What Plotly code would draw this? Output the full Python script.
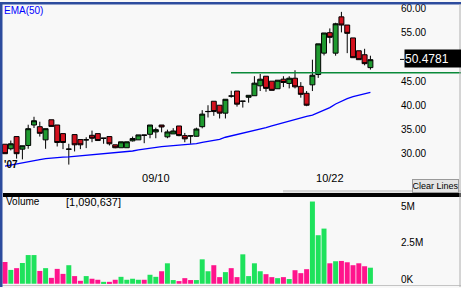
import pandas as pd
import plotly.graph_objects as go

# ---------------- data ----------------
dates = [d.strftime("%Y-%m-%d") for d in pd.bdate_range("2007-08-02", "2007-10-31")
         if d.strftime("%Y-%m-%d") != "2007-09-03"]

opens = [31.98, 31.04, 33.56, 30.96, 31.72, 35.95, 35.60, 32.88, 37.03, 35.95,
         34.17, 30.93, 33.97, 32.94, 32.86, 33.82, 34.17, 33.19, 33.56, 31.86,
         31.25, 31.25, 32.68, 32.88, 33.91, 34.03, 34.52, 35.95, 33.50, 34.11,
         35.75, 33.76, 33.72, 33.62, 35.60, 38.71, 40.86, 40.04, 38.40, 41.96,
         42.97, 40.84, 41.68, 42.00, 44.05, 46.03, 45.01, 43.44, 45.42, 44.54,
         45.62, 43.93, 42.50, 44.25, 46.38, 50.80, 55.03, 50.80, 58.30, 56.61,
         53.95, 51.29, 50.47, 47.81]
highs = [31.98, 32.74, 33.56, 31.66, 36.01, 37.65, 36.63, 35.19, 37.03, 35.95,
         34.17, 32.07, 33.97, 32.94, 33.42, 34.79, 34.17, 33.23, 33.56, 31.86,
         32.48, 32.48, 33.56, 33.91, 33.91, 35.95, 35.40, 35.95, 34.99, 35.30,
         35.75, 34.31, 33.72, 35.40, 39.02, 40.04, 40.86, 40.04, 41.27, 43.03,
         42.97, 40.88, 42.09, 46.03, 46.50, 46.03, 45.01, 45.21, 46.03, 46.03,
         47.26, 44.81, 42.97, 49.45, 52.72, 54.97, 55.91, 57.08, 59.33, 56.61,
         53.95, 51.29, 51.70, 50.27]
lows = [30.02, 30.70, 29.00, 28.85, 31.04, 35.34, 33.56, 31.04, 35.66, 31.51,
        30.96, 27.77, 30.49, 30.96, 31.17, 32.39, 32.74, 32.07, 31.72, 31.15,
        31.25, 31.25, 32.54, 32.88, 32.19, 33.21, 33.21, 34.44, 33.21, 34.11,
        33.62, 32.39, 32.07, 33.56, 35.26, 37.51, 37.85, 37.30, 37.30, 41.60,
        39.75, 39.55, 40.57, 42.00, 42.97, 42.82, 43.11, 43.44, 43.78, 43.52,
        43.52, 41.60, 39.84, 42.97, 45.69, 50.33, 52.84, 50.27, 55.09, 50.80,
        49.86, 49.45, 48.28, 47.40]
closes = [30.02, 32.07, 30.02, 31.66, 35.19, 36.83, 34.23, 35.19, 35.66, 32.33,
          32.33, 30.97, 31.86, 31.86, 32.90, 33.21, 32.74, 33.23, 32.07, 31.25,
          32.48, 32.48, 33.15, 33.91, 33.82, 35.95, 34.99, 35.54, 34.52, 34.72,
          33.76, 33.09, 33.68, 35.13, 38.20, 38.75, 38.73, 38.40, 41.27, 41.92,
          40.25, 40.88, 42.09, 44.60, 45.42, 43.52, 43.11, 45.21, 44.74, 45.62,
          43.84, 42.29, 40.04, 46.24, 52.72, 54.97, 54.07, 56.87, 56.61, 54.89,
          49.86, 49.45, 48.63, 49.45]
ema50 = [27.45, 27.70, 27.90, 28.10, 28.40, 28.55, 28.80, 29.00, 29.13, 29.20,
         29.30, 29.35, 29.45, 29.55, 29.67, 29.80, 29.95, 30.07, 30.15, 30.25,
         30.35, 30.45, 30.58, 30.80, 31.00, 31.15, 31.30, 31.47, 31.60, 31.70,
         31.78, 31.85, 31.92, 32.10, 32.35, 32.55, 32.70, 33.00, 33.42, 33.70,
         34.00, 34.25, 34.45, 34.75, 35.05, 35.40, 35.75, 36.10, 36.48, 36.85,
         37.20, 37.52, 37.75, 38.00, 38.50, 39.05, 39.55, 40.30, 40.90, 41.40,
         41.80, 42.05, 42.35, 42.70]
volumes = [1480000, 940000, 1060000, 1410000, 1950000, 1950000, 870000, 1060000, 400000, 1010000,
           670000, 1260000, 520000, 200000, 520000, 340000, 270000, 130000, 130000, 270000,
           470000, 270000, 340000, 270000, 270000, 610000, 470000, 850000, 1390000, 250000,
           180000, 380000, 250000, 250000, 1660000, 850000, 1260000, 450000, 790000, 1060000,
           450000, 2000000, 520000, 1390000, 850000, 650000, 450000, 380000, 450000, 320000,
           920000, 720000, 990000, 5590000, 3300000, 3750000, 1390000, 1530000, 1550000, 1460000,
           1260000, 1390000, 1190000, 1090637]

date_ticks = ["2007-09-10", "2007-10-22"]
date_labels = ["09/10", "10/22"]
price_ticks = [30, 35, 40, 45, 55, 60]
vol_ticks = [0, 2500000, 5000000]
vol_labels = ["0K", "2.5M", "5M"]
support_level = 46.73
last_price_text = "50.4781"
last_volume_text = "[1,090,637]"

# ---------------- styling ----------------
W, H = 461, 288
PW = 400  # plot width in px (right margin holds the labels)
BG = "#f8f8f8"
UP_FILL = "#1f9a30"
DN_FILL = "#d4111e"
VOL_UP = "#1ee25c"
VOL_DN = "#ff148c"
FONT = "Liberation Sans, Arial, sans-serif"


def px(xp):
    return xp / PW


def py(yp):
    return (H - yp) / H


vol_colors = [VOL_UP if c >= o else VOL_DN for o, c in zip(opens, closes)]

fig = go.Figure()
fig.add_trace(go.Candlestick(
    x=dates, open=opens, high=highs, low=lows, close=closes,
    xaxis="x", yaxis="y",
    increasing=dict(line=dict(color="black", width=1), fillcolor=UP_FILL),
    decreasing=dict(line=dict(color="black", width=1), fillcolor=DN_FILL),
    whiskerwidth=0, showlegend=False, hoverinfo="skip"))
fig.add_trace(go.Scatter(
    x=dates, y=ema50, mode="lines", xaxis="x", yaxis="y",
    line=dict(color="#0000ff", width=1.3), showlegend=False, hoverinfo="skip"))
fig.add_trace(go.Bar(
    x=dates, y=volumes, xaxis="x2", yaxis="y2",
    marker=dict(color=vol_colors, line=dict(width=0)),
    showlegend=False, hoverinfo="skip"))

xr = [-0.862, 68.10]
fig.update_layout(
    width=W, height=H,
    margin=dict(l=0, r=W - PW, t=0, b=0),
    paper_bgcolor=BG, plot_bgcolor=BG,
    font=dict(family=FONT, size=10, color="black"),
    boxgap=0.15, boxgroupgap=0, bargap=0.14,
    showlegend=False,
    xaxis=dict(type="category", range=xr, domain=[0, 1], anchor="y",
               rangeslider=dict(visible=False), showgrid=False, zeroline=False,
               showline=False, ticks="", tickvals=date_ticks, ticktext=date_labels,
               ticklabelposition="inside", ticklabelstandoff=6,
               tickfont=dict(size=11, color="black", family=FONT)),
    xaxis2=dict(type="category", range=xr, domain=[0, 1], anchor="y2", matches="x",
                showgrid=False, zeroline=False, showline=False, showticklabels=False,
                ticks=""),
    yaxis=dict(domain=[py(193), py(3)], range=[21.90, 60.757], side="right",
               showgrid=False, zeroline=False, showline=False, ticks="",
               tickvals=price_ticks, ticktext=[f"{v:.2f}" for v in price_ticks],
               tickfont=dict(size=10, color="black", family=FONT)),
    yaxis2=dict(domain=[py(285), py(197)], range=[-20000, 5902000], side="right",
                showgrid=False, zeroline=False, showline=False, ticks="",
                tickvals=vol_ticks, ticktext=vol_labels, ticklabelshift=-4,
                ticklabeloverflow="allow",
                tickfont=dict(size=10, color="black", family=FONT)),
)

shapes = [
    # support line
    dict(type="line", xref="paper", yref="y", x0=px(231), x1=px(461),
         y0=support_level, y1=support_level, line=dict(color="#0a8a3a", width=1.5)),
    # small price marker tick
    dict(type="line", xref="paper", yref="paper", x0=px(400), x1=px(404),
         y0=py(58), y1=py(58), line=dict(color="black", width=1)),
    # separator bar between panels
    dict(type="rect", xref="paper", yref="paper", x0=px(3), x1=px(461),
         y0=py(197), y1=py(193), fillcolor="black", line=dict(width=0), layer="above"),
    # scroll ruler
    dict(type="rect", xref="paper", yref="paper", x0=px(283), x1=px(461),
         y0=py(192.5), y1=py(190), fillcolor="#d4d4d4", line=dict(width=0)),
    dict(type="line", xref="paper", yref="paper", x0=px(0), x1=px(461),
         y0=py(286.5), y1=py(286.5), line=dict(color="#c4c4c4", width=1)),
    # blue frame
    dict(type="rect", xref="paper", yref="paper", x0=0, x1=px(461),
         y0=py(2.5), y1=py(0), fillcolor="#2d4c9e", line=dict(width=0), layer="above"),
    dict(type="rect", xref="paper", yref="paper", x0=0, x1=px(2.5),
         y0=py(288), y1=py(0), fillcolor="#2d4c9e", line=dict(width=0), layer="above"),
    dict(type="line", xref="paper", yref="paper", x0=px(460), x1=px(460),
         y0=py(288), y1=py(2), line=dict(color="#b0b0b0", width=1)),
]
fig.update_layout(shapes=shapes)

annotations = [
    dict(text="EMA(50)", xref="paper", yref="paper", x=px(2), y=py(1),
         xanchor="left", yanchor="top", showarrow=False,
         font=dict(size=10, color="#0000ff", family=FONT)),
    dict(text="<b>'07</b>", xref="paper", yref="paper", x=px(2), y=py(157),
         xanchor="left", yanchor="top", showarrow=False,
         font=dict(size=10, color="black", family=FONT)),
    dict(text="Volume", xref="paper", yref="paper", x=px(4), y=py(194.5),
         xanchor="left", yanchor="top", showarrow=False,
         font=dict(size=10, color="black", family=FONT)),
    dict(text=last_volume_text, xref="paper", yref="paper", x=px(64), y=py(194.5),
         xanchor="left", yanchor="top", showarrow=False,
         font=dict(size=11, color="black", family=FONT)),
    dict(text=last_price_text, xref="paper", yref="paper", x=px(404), y=py(48),
         xanchor="left", yanchor="top", showarrow=False, width=57, height=17,
         align="left", bgcolor="black", borderpad=0,
         font=dict(size=12, color="white", family=FONT)),
    dict(text="Clear Lines", xref="paper", yref="paper", x=px(412), y=py(179),
         xanchor="left", yanchor="top", showarrow=False, width=45, height=12,
         bgcolor="#e4e4e4", bordercolor="#9a9a9a", borderwidth=1, borderpad=0,
         font=dict(size=9, color="black", family=FONT)),
]
fig.update_layout(annotations=annotations)

fig.write_html("out.html", config={"displayModeBar": False})
